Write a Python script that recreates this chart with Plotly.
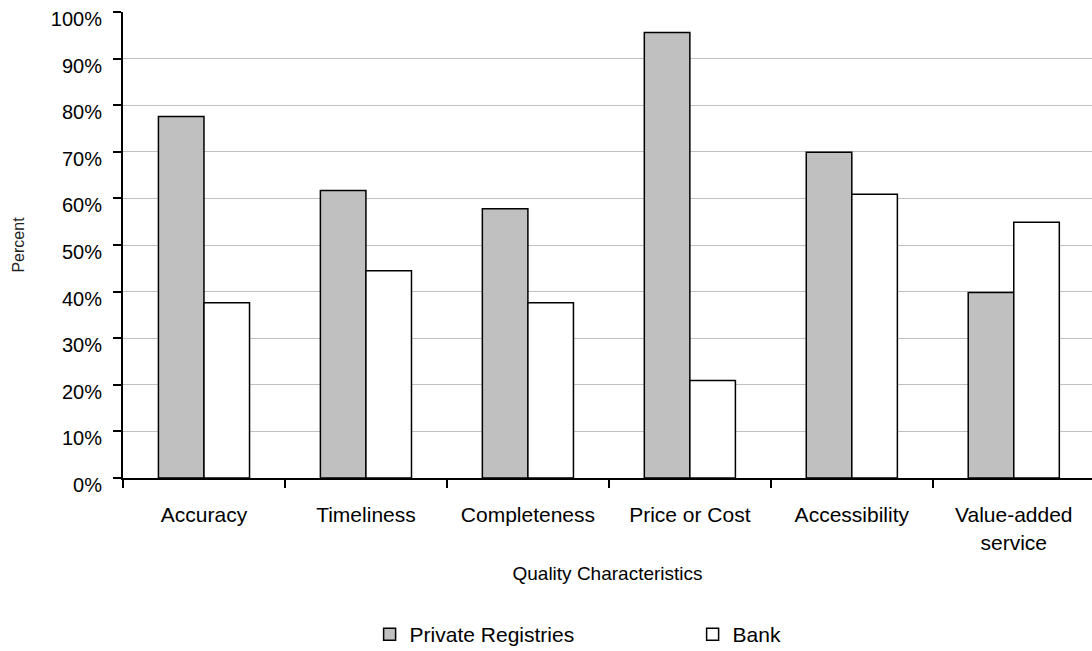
import plotly.graph_objects as go

# Survey results: share of respondents rating each quality characteristic
categories = ["Accuracy", "Timeliness", "Completeness", "Price or Cost",
              "Accessibility", "Value-added<br>service"]
private_registries = [77.6, 61.7, 57.8, 95.6, 69.9, 39.8]
bank = [37.6, 44.5, 37.6, 20.9, 60.9, 54.9]
y_ticks = [0, 10, 20, 30, 40, 50, 60, 70, 80, 90, 100]

FONT = "Liberation Sans, Arial, sans-serif"

fig = go.Figure()
fig.add_trace(go.Bar(
    name="Private Registries", x=categories, y=private_registries,
    marker=dict(color="#C0C0C0", line=dict(color="black", width=1.5)),
))
fig.add_trace(go.Bar(
    name="Bank", x=categories, y=bank,
    marker=dict(color="white", line=dict(color="black", width=1.5)),
))

fig.update_layout(
    width=1092, height=651,
    margin=dict(l=123, r=0, t=12, b=173),
    paper_bgcolor="white", plot_bgcolor="white",
    barmode="group", bargap=0.4375, bargroupgap=0,
    font=dict(family=FONT, color="black"),
    showlegend=True,
    legend=dict(
        orientation="h", x=0.2545, xanchor="left",
        y=0.0568, yref="container", yanchor="top",
        font=dict(size=21, family=FONT, color="black"),
        entrywidth=278, entrywidthmode="pixels",
        itemwidth=30, bgcolor="rgba(0,0,0,0)",
    ),
    xaxis=dict(
        type="category", range=[-0.5, 5.483],
        showline=True, linecolor="black", linewidth=2,
        ticks="outside", tickson="boundaries", ticklen=8, tickwidth=2,
        tickcolor="black", showgrid=False,
        tickfont=dict(size=21, family=FONT, color="black"),
        ticklabelstandoff=17,
        title=dict(text="Quality Characteristics",
                   font=dict(size=19, family=FONT, color="black"),
                   standoff=14),
    ),
    yaxis=dict(
        range=[0, 100], tickvals=y_ticks,
        ticktext=[f"{v}%" for v in y_ticks],
        showline=True, linecolor="black", linewidth=2,
        ticks="outside", ticklen=8, tickwidth=2, tickcolor="black",
        showgrid=True, gridcolor="#C0C0C0", gridwidth=1, zeroline=False,
        tickfont=dict(size=20, family=FONT, color="black"),
        ticklabelstandoff=7, ticklabelshift=7,
        title=dict(text="Percent",
                   font=dict(size=16, family=FONT, color="#222"),
                   standoff=22),
    ),
)

fig.write_html("out.html")
